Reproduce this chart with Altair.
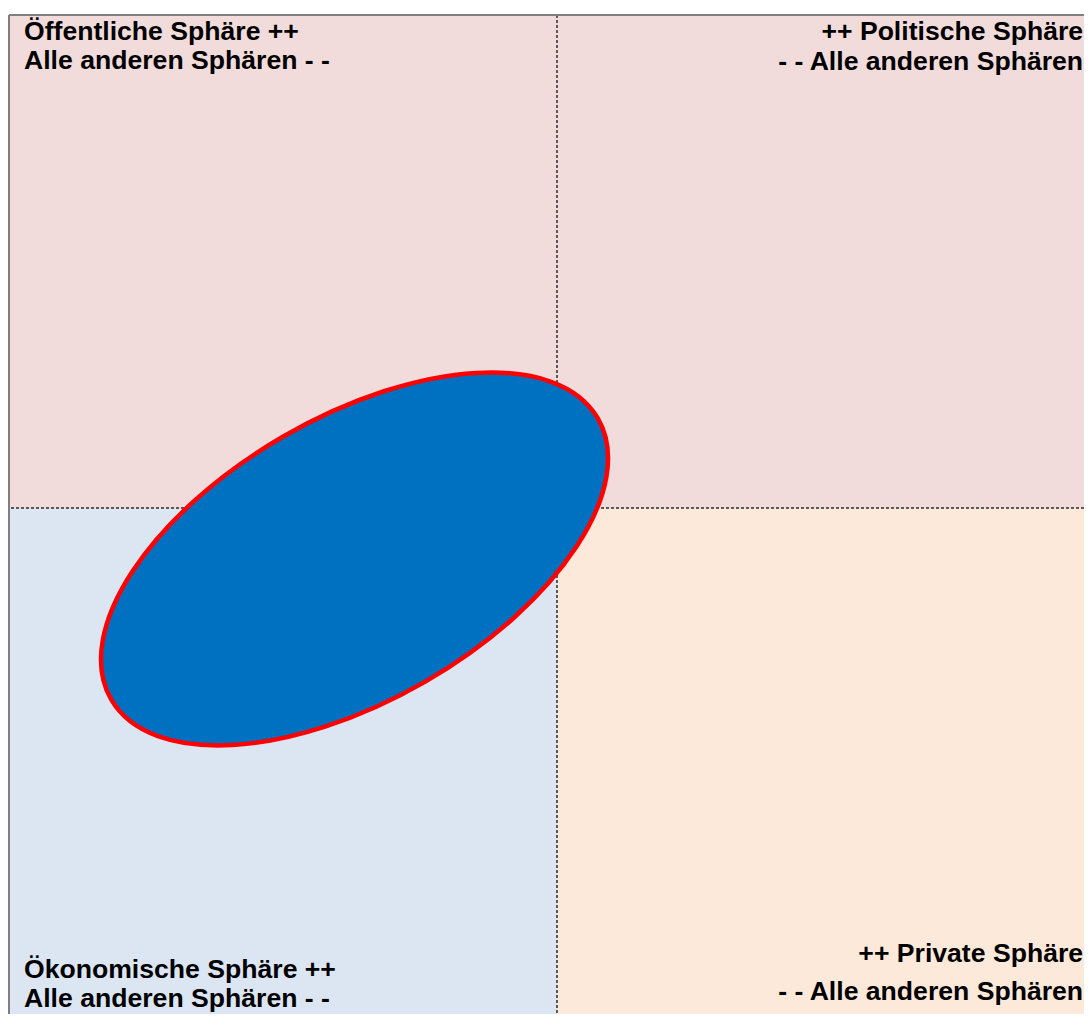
import altair as alt
import pandas as pd

# Quadrants (data coordinates: centre cross at 0/0)
quad_names = ["Öffentliche Sphäre", "Politische Sphäre", "Ökonomische Sphäre", "Private Sphäre"]
quad_x0 = [-1.0, 0.0, -1.0, 0.0]
quad_x1 = [0.0, 0.9617, 0.0, 0.9617]
quad_y0 = [0.0, 0.0, -1.0264, -1.0264]
quad_y1 = [1.0, 1.0, 0.0, 0.0]

# Labels
label_text = [
    "Öffentliche Sphäre ++", "Alle anderen Sphären - -",
    "++ Politische Sphäre", "- - Alle anderen Sphären",
    "Ökonomische Sphäre ++", "Alle anderen Sphären - -",
    "++ Private Sphäre", "- - Alle anderen Sphären",
]
label_x = [-0.9726, -0.9726, 0.9600, 0.9600, -0.9726, -0.9726, 0.9600, 0.9600]
label_y = [0.9493, 0.8895, 0.9493, 0.8875, -0.9533, -1.0122, -0.9209, -0.998]
label_side = ["left", "left", "right", "right", "left", "left", "right", "right"]

# Ellipse centre
ellipse_x = [-0.3695]
ellipse_y = [-0.1034]

X_DOM = [-1.0, 0.9617]
Y_DOM = [-1.0264, 1.0]

quad_colors = ["#F2DCDB", "#F2DCDB", "#DCE6F2", "#FDE9D9"]

quads = pd.DataFrame({"name": quad_names, "x0": quad_x0, "x1": quad_x1,
                      "y0": quad_y0, "y1": quad_y1})
labels = pd.DataFrame({"text": label_text, "x": label_x, "y": label_y, "side": label_side})
ell = pd.DataFrame({"x": ellipse_x, "y": ellipse_y})

xs = alt.Scale(domain=X_DOM, nice=False, zero=False)
ys = alt.Scale(domain=Y_DOM, nice=False, zero=False)

rects = alt.Chart(quads).mark_rect(strokeWidth=0).encode(
    x=alt.X("x0:Q", scale=xs, axis=None),
    x2="x1:Q",
    y=alt.Y("y0:Q", scale=ys, axis=None),
    y2="y1:Q",
    color=alt.Color("name:N", scale=alt.Scale(domain=quad_names, range=quad_colors), legend=None),
)

vdiv = alt.Chart(quads).mark_rule(color="#505050", strokeWidth=1, strokeDash=[3, 2]).encode(
    x=alt.datum(0, scale=xs)
)
hdiv = alt.Chart(quads).mark_rule(color="#505050", strokeWidth=1, strokeDash=[3, 2]).encode(
    y=alt.datum(0, scale=ys)
)
left_border = alt.Chart(quads).mark_rule(color="#7F7F7F", strokeWidth=2).encode(
    x=alt.datum(-1.0, scale=xs)
)
top_border = alt.Chart(quads).mark_rule(color="#7F7F7F", strokeWidth=2).encode(
    y=alt.datum(1.0, scale=ys)
)

b = 0.504
k = 0.5523
kb = round(k * b, 4)
ellipse_path = (
    f"M -1 0 C -1 {-kb} {-k} {-b} 0 {-b} "
    f"C {k} {-b} 1 {-kb} 1 0 "
    f"C 1 {kb} {k} {b} 0 {b} "
    f"C {-k} {b} -1 {kb} -1 0 Z"
)

ellipse = alt.Chart(ell).mark_point(
    shape=ellipse_path, filled=True, fill="#0070C0", stroke="#FF0000",
    strokeWidth=4.5, opacity=1, fillOpacity=1, strokeOpacity=1,
    size=562 * 562, angle=330,
).encode(
    x=alt.X("x:Q", scale=xs),
    y=alt.Y("y:Q", scale=ys),
)

text_style = dict(baseline="alphabetic", font="Liberation Sans", fontWeight="bold",
                  fontSize=26.6, color="#000000")

text_left = alt.Chart(labels).transform_filter(alt.datum.side == "left").mark_text(
    align="left", **text_style
).encode(x=alt.X("x:Q", scale=xs), y=alt.Y("y:Q", scale=ys), text="text:N")

text_right = alt.Chart(labels).transform_filter(alt.datum.side == "right").mark_text(
    align="right", **text_style
).encode(x=alt.X("x:Q", scale=xs), y=alt.Y("y:Q", scale=ys), text="text:N")

chart = alt.layer(
    rects, vdiv, hdiv, left_border, top_border, ellipse, text_left, text_right
).properties(
    width=1075, height=999,
    autosize=alt.AutoSizeParams(type="none"),
    padding={"left": 1, "top": 7, "right": 0, "bottom": 0},
).configure_view(stroke=None).configure(background="white")

chart.save("out.html", embed_options={"renderer": "svg", "actions": False})
